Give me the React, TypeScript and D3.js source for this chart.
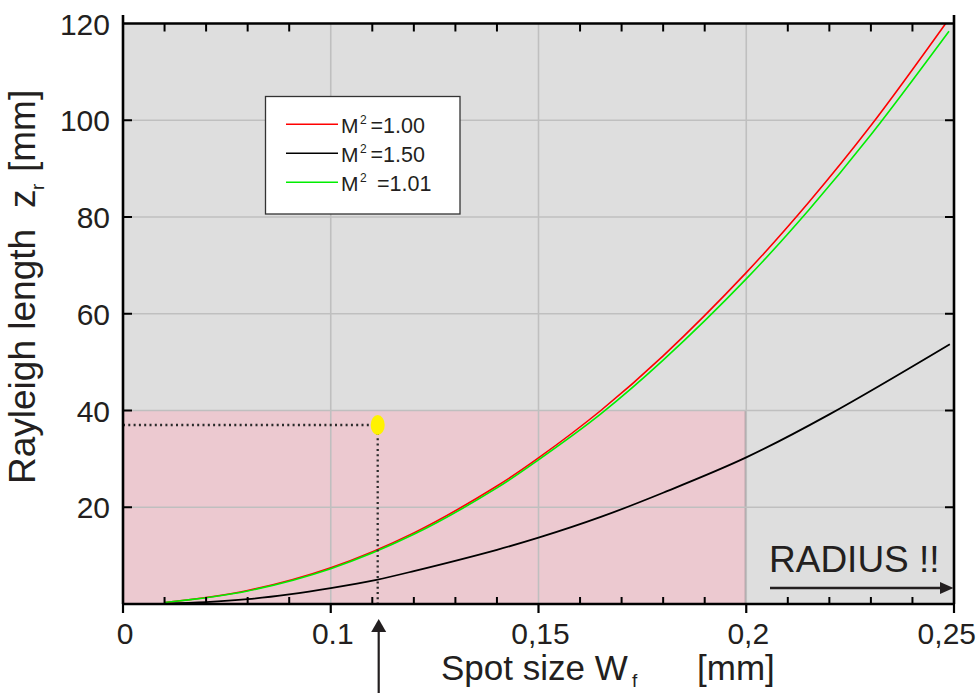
import React from "react";
import * as d3 from "d3";

// Spot size W_f [mm] and Rayleigh length z_r [mm] for three beam qualities
const spotM100 = [0.06, 0.08, 0.1, 0.12, 0.14, 0.15, 0.165, 0.18, 0.2, 0.215, 0.23, 0.248];
const rayleighM100 = [0.3, 2.8, 7.5, 14.7, 24.4, 30.2, 40.0, 51.3, 68.5, 83.0, 98.9, 120];

const spotM150 = [0.06, 0.07, 0.08, 0.09, 0.1, 0.111, 0.12, 0.14, 0.15, 0.165, 0.18, 0.2, 0.22, 0.249];
const rayleighM150 = [0.1, 0.4, 1.0, 2.0, 3.3, 5.0, 6.8, 11.2, 13.7, 18.0, 23.0, 30.3, 39.2, 53.7];

const spotM101 = [0.06, 0.08, 0.1, 0.12, 0.14, 0.15, 0.165, 0.18, 0.2, 0.215, 0.23, 0.2488];
const rayleighM101 = [0.3, 2.7, 7.3, 14.4, 24.0, 29.8, 39.3, 50.4, 67.2, 81.4, 97.0, 118.4];

// Axis ticks
const xTickValues = [0.05, 0.1, 0.15, 0.2, 0.25];
const xTickLabels = ["0", "0.1", "0,15", "0,2", "0,25"];
const yTickValues = [20, 40, 60, 80, 100, 120];
const yTickLabels = ["20", "40", "60", "80", "100", "120"];

// Highlighted working region and chosen operating point
const regionMaxSpot = 0.2;
const regionMaxRayleigh = 40;
const pointSpot = 0.1113;
const pointRayleigh = 37;

const legendLabels = ["=1.00", "=1.50", "=1.01"];
const seriesColors = ["#ff0000", "#000000", "#00ee00"];

const FONT = "'Liberation Sans', Arial, Helvetica, sans-serif";
const INK = "#231f20";

export default function App() {
  const W = 979;
  const H = 693;
  const left = 123;
  const right = 954;
  const top = 23.5;
  const bottom = 604;

  const x = d3.scaleLinear().domain([0.05, 0.25]).range([left, right]);
  const y = d3.scaleLinear().domain([0, 120]).range([bottom, top]);

  const line = d3
    .line<[number, number]>()
    .x((d) => x(d[0]))
    .y((d) => y(d[1]))
    .curve(d3.curveCatmullRom.alpha(0.5));

  const series = [
    { xs: spotM150, ys: rayleighM150, color: seriesColors[1], w: 1.8 },
    { xs: spotM100, ys: rayleighM100, color: seriesColors[0], w: 1.6 },
    { xs: spotM101, ys: rayleighM101, color: seriesColors[2], w: 1.6 },
  ];

  const minorTicks = d3
    .range(6, 25)
    .filter((i) => i % 5 !== 0)
    .map((i) => i / 100);

  const gridX = xTickValues.filter((v) => v > 0.05 && v < 0.25);
  const gridY = yTickValues.filter((v) => v < 120);

  const px = x(pointSpot);
  const py = y(pointRayleigh);

  const legendY = [124.3, 153.3, 182.3];
  const legendEqX = [370.5, 370.5, 377];

  return (
    <svg
      width={W}
      height={H}
      style={{ position: "absolute", left: 0, top: 0, background: "#fff" }}
      fontFamily={FONT}
    >
      <defs>
        <clipPath id="plot-clip">
          <rect x={left} y={top} width={right - left} height={bottom - top} />
        </clipPath>
      </defs>

      {/* plot background */}
      <rect x={left} y={top} width={right - left} height={bottom - top} fill="#dedede" />

      {/* highlighted region */}
      <rect
        x={left}
        y={y(regionMaxRayleigh)}
        width={x(regionMaxSpot) - left - 1}
        height={bottom - y(regionMaxRayleigh)}
        fill="#ecc9d0"
        stroke="#93858a"
        strokeWidth={1}
      />

      {/* grid */}
      {gridX.map((v) => (
        <line key={"gx" + v} x1={x(v)} x2={x(v)} y1={top} y2={bottom} stroke="#bfbfbf" strokeWidth={1.6} />
      ))}
      {gridY.map((v) => (
        <line key={"gy" + v} x1={left} x2={right} y1={y(v)} y2={y(v)} stroke="#bfbfbf" strokeWidth={1.6} />
      ))}

      {/* curves */}
      <g clipPath="url(#plot-clip)">
        {series.map((s, i) => (
          <path
            key={i}
            d={line(s.xs.map((v, j) => [v, s.ys[j]] as [number, number])) || ""}
            fill="none"
            stroke={s.color}
            strokeWidth={s.w}
          />
        ))}
      </g>

      {/* operating point guides */}
      <line x1={left} x2={px - 6} y1={py} y2={py} stroke="#2a2a2a" strokeWidth={2.3} strokeDasharray="2 3.3" />
      <line x1={px} x2={px} y1={py + 8} y2={bottom} stroke="#2a2a2a" strokeWidth={2.3} strokeDasharray="2 3.3" />
      <ellipse cx={px} cy={py} rx={7} ry={10} fill="#fff200" />

      {/* axes frame */}
      <line x1={left} x2={right} y1={top} y2={top} stroke="#000" strokeWidth={2.6} />
      <line x1={left} x2={right} y1={bottom} y2={bottom} stroke="#000" strokeWidth={2.6} />
      <line x1={left} x2={left} y1={15} y2={bottom} stroke="#000" strokeWidth={2.6} />
      <line x1={right} x2={right} y1={15} y2={bottom} stroke="#000" strokeWidth={2.6} />

      {/* x ticks */}
      {minorTicks.map((v) => (
        <g key={"mt" + v}>
          <line x1={x(v)} x2={x(v)} y1={bottom} y2={bottom - 7} stroke="#000" strokeWidth={2} />
          <line x1={x(v)} x2={x(v)} y1={top} y2={top + 8} stroke="#000" strokeWidth={2} />
        </g>
      ))}
      {xTickValues.map((v) => (
        <line key={"Mt" + v} x1={x(v)} x2={x(v)} y1={bottom} y2={bottom + 9} stroke="#000" strokeWidth={2.2} />
      ))}

      {/* y ticks */}
      {gridY.map((v) => (
        <g key={"yt" + v}>
          <line x1={left} x2={left + 9} y1={y(v)} y2={y(v)} stroke="#000" strokeWidth={2} />
          <line x1={right} x2={right - 9} y1={y(v)} y2={y(v)} stroke="#000" strokeWidth={2} />
        </g>
      ))}

      {/* tick labels */}
      {xTickValues.map((v, i) => {
        const last = i === xTickValues.length - 1;
        return (
          <text
            key={"xl" + v}
            x={last ? 976 : x(v) + 2}
            y={644}
            fontSize={30}
            fill={INK}
            textAnchor={last ? "end" : "middle"}
          >
            {xTickLabels[i]}
          </text>
        );
      })}
      {yTickValues.map((v, i) => (
        <text key={"yl" + v} x={110} y={y(v) + 11} fontSize={30} fill={INK} textAnchor="end">
          {yTickLabels[i]}
        </text>
      ))}

      {/* axis titles */}
      <text x={441} y={680} fontSize={35} fill={INK}>
        Spot size W
      </text>
      <text x={632} y={687} fontSize={19} fill={INK}>
        f
      </text>
      <text x={697} y={680} fontSize={35} fill={INK}>
        [mm]
      </text>

      <g transform="translate(35,484) rotate(-90)">
        <text x={0} y={0} fontSize={37} fill={INK}>
          Rayleigh length
        </text>
        <text x={276} y={0} fontSize={37} fill={INK}>
          z
        </text>
        <text x={294} y={9} fontSize={19} fill={INK}>
          r
        </text>
        <text x={312} y={0} fontSize={37} fill={INK}>
          [mm]
        </text>
      </g>

      {/* legend */}
      <rect x={265.5} y={96.5} width={194.5} height={117.5} fill="#fff" stroke="#333" strokeWidth={1.3} />
      {legendLabels.map((lab, i) => (
        <g key={lab}>
          <line x1={286} x2={338} y1={legendY[i]} y2={legendY[i]} stroke={seriesColors[i]} strokeWidth={1.6} />
          <text x={341} y={legendY[i] + 9} fontSize={21} fill={INK}>
            M
          </text>
          <text x={360} y={legendY[i] - 0.8} fontSize={12} fill={INK}>
            2
          </text>
          <text x={legendEqX[i]} y={legendY[i] + 9} fontSize={21.5} fill={INK}>
            {lab}
          </text>
        </g>
      ))}

      {/* radius annotation */}
      <text x={769} y={572} fontSize={37} fill={INK}>
        RADIUS !!
      </text>
      <line x1={770} x2={942} y1={588} y2={588} stroke={INK} strokeWidth={2.6} />
      <polygon points={`953.5,588 940,582 940,594`} fill={INK} />

      {/* arrow marking the chosen spot size */}
      <line x1={px + 1} x2={px + 1} y1={630} y2={H} stroke={INK} strokeWidth={2.2} />
      <polygon points={`${px + 1},619 ${px - 6.5},632 ${px + 8.5},632`} fill={INK} />
    </svg>
  );
}
